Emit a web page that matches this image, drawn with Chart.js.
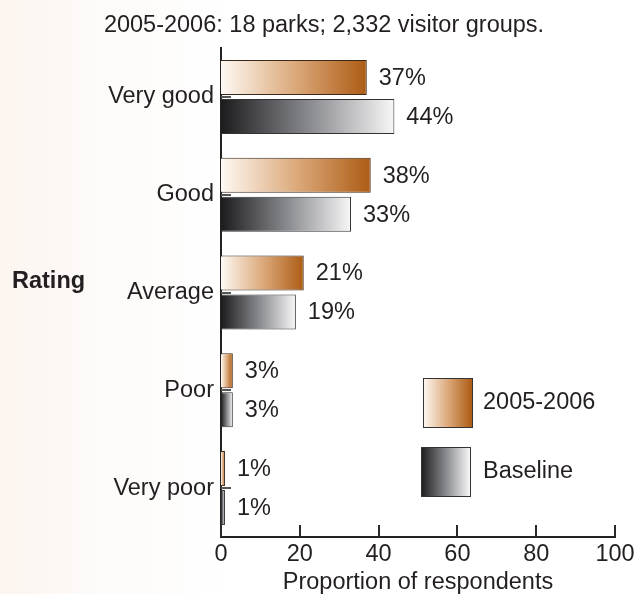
<!DOCTYPE html>
<html>
<head>
<meta charset="utf-8">
<script src="https://cdn.jsdelivr.net/npm/chart.js@4/dist/chart.umd.min.js"></script>
<style>
  html, body { margin: 0; padding: 0; }
  body {
    width: 638px; height: 594px; overflow: hidden;
    background: linear-gradient(to right, #fcf5f0 0%, #fdf9f6 12%, #fefdfc 26%, #ffffff 36%);
  }
  #wrap { position: relative; width: 638px; height: 594px; }
</style>
</head>
<body>
<div id="wrap"><canvas id="chart" width="638" height="594"></canvas></div>
<script>
// Ratings and the share of respondents giving each one (percent)
const categories = ['Very good', 'Good', 'Average', 'Poor', 'Very poor'];
const current = [37, 38, 21, 3, 1];      // 2005-2006
const baseline = [44, 33, 19, 3, 1];     // Baseline
const xTicks = [0, 20, 40, 60, 80, 100];
const seriesNames = ['2005-2006', 'Baseline'];
const chartTitle = '2005-2006: 18 parks; 2,332 visitor groups.';
const yTitle = 'Rating';
const xTitle = 'Proportion of respondents';

const FONT = '"Liberation Sans", Arial, Helvetica, sans-serif';
const FS = 23.5;
const TEXT = '#231f20';

const copperStops = [[0, '#fef9f3'], [0.5, '#dcaa7c'], [1, '#ad5c14']];
const greyStops = [[0, '#1c1c1e'], [0.5, '#87888d'], [1, '#f7f7f7']];

function fillStops(g, stops) {
  stops.forEach(([o, c]) => g.addColorStop(o, c));
  return g;
}

// Each bar is shaded along its own length, from the zero line to its end
function barGradient(stops) {
  return (context) => {
    const chart = context.chart;
    const { ctx, chartArea, scales } = chart;
    if (!chartArea || context.type !== 'data' || !scales.x) return stops[1][1];
    const x0 = scales.x.getPixelForValue(0);
    const x1 = scales.x.getPixelForValue(context.raw);
    return fillStops(ctx.createLinearGradient(x0, 0, Math.max(x1, x0 + 1), 0), stops);
  };
}

const decorations = {
  id: 'decorations',
  afterDatasetsDraw(chart) {
    const { ctx, scales: { x, y }, chartArea } = chart;
    ctx.save();
    // inward tick marks on both axes
    ctx.strokeStyle = '#2a2a2a';
    ctx.lineWidth = 2;
    xTicks.forEach(v => {
      const px = Math.round(x.getPixelForValue(v));
      ctx.beginPath();
      ctx.moveTo(px, chartArea.bottom);
      ctx.lineTo(px, chartArea.bottom - 12);
      ctx.stroke();
    });
    ctx.strokeStyle = '#555';
    categories.forEach((c, i) => {
      const py = Math.round(y.getPixelForValue(i));
      ctx.beginPath();
      ctx.moveTo(chartArea.left, py);
      ctx.lineTo(chartArea.left + 10, py);
      ctx.stroke();
    });

    // value labels at the end of each bar
    ctx.font = `${FS}px ${FONT}`;
    ctx.fillStyle = TEXT;
    ctx.textAlign = 'left';
    ctx.textBaseline = 'middle';
    chart.data.datasets.forEach((ds, di) => {
      chart.getDatasetMeta(di).data.forEach((bar, i) => {
        ctx.fillText(ds.data[i] + '%', bar.x + 12, bar.y + 1);
      });
    });

    // chart title
    ctx.textAlign = 'center';
    ctx.textBaseline = 'alphabetic';
    ctx.fillText(chartTitle, 324, 32);

    // horizontal category-axis title
    ctx.font = `bold ${FS}px ${FONT}`;
    ctx.textAlign = 'left';
    ctx.fillText(yTitle, 12, 288);

    // legend
    const boxes = [
      { x: 423, y: 378, stops: copperStops, label: seriesNames[0] },
      { x: 421, y: 447, stops: greyStops, label: seriesNames[1] }
    ];
    ctx.font = `${FS}px ${FONT}`;
    ctx.textBaseline = 'middle';
    boxes.forEach(b => {
      const g = fillStops(ctx.createLinearGradient(b.x, 0, b.x + 49, 0), b.stops);
      ctx.fillStyle = g;
      ctx.fillRect(b.x, b.y, 49, 49);
      ctx.strokeStyle = '#333';
      ctx.lineWidth = 1;
      ctx.strokeRect(b.x + 0.5, b.y + 0.5, 49, 49);
      ctx.fillStyle = TEXT;
      ctx.fillText(b.label, 483, b.y + 25);
    });
    ctx.restore();
  }
};

new Chart(document.getElementById('chart'), {
  type: 'bar',
  data: {
    labels: categories,
    datasets: [
      {
        label: seriesNames[0],
        data: current,
        backgroundColor: barGradient(copperStops),
        borderColor: '#3b2a1c',
        borderWidth: 1,
        borderSkipped: 'start'
      },
      {
        label: seriesNames[1],
        data: baseline,
        backgroundColor: barGradient(greyStops),
        borderColor: '#333',
        borderWidth: 1,
        borderSkipped: 'start'
      }
    ]
  },
  options: {
    indexAxis: 'y',
    responsive: false,
    animation: false,
    categoryPercentage: 0.7975,
    barPercentage: 0.897,
    layout: { padding: { top: 48, right: 23, bottom: 0, left: 0 } },
    plugins: {
      legend: { display: false },
      tooltip: { enabled: false }
    },
    scales: {
      x: {
        min: 0,
        max: 100,
        afterBuildTicks: (scale) => { scale.ticks = xTicks.map(v => ({ value: v })); },
        afterFit: (scale) => { scale.height = 57; },
        grid: { display: false, drawTicks: false },
        border: { display: true, color: '#222', width: 2 },
        ticks: { padding: 3, color: TEXT, font: { family: FONT, size: FS } },
        title: {
          display: true,
          text: xTitle,
          color: TEXT,
          font: { family: FONT, size: FS },
          padding: { top: 0, bottom: -3 }
        }
      },
      y: {
        afterFit: (scale) => { scale.width = 221; },
        grid: { display: false, drawTicks: false },
        border: { display: true, color: '#222', width: 2 },
        ticks: { padding: 7, color: TEXT, font: { family: FONT, size: FS } }
      }
    }
  },
  plugins: [decorations]
});
</script>
</body>
</html>
